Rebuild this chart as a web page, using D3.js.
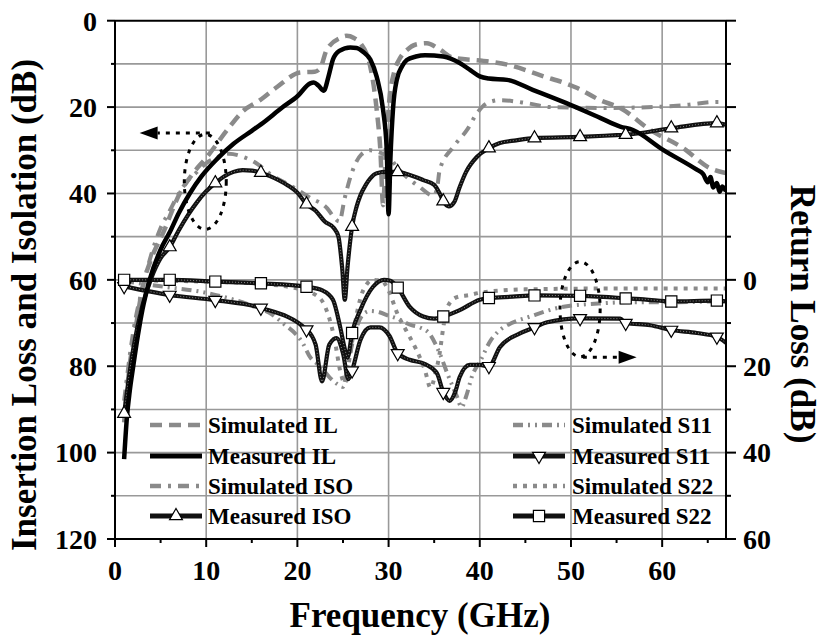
<!DOCTYPE html>
<html>
<head>
<meta charset="utf-8">
<script src="https://cdn.jsdelivr.net/npm/d3@7/dist/d3.min.js"></script>
<style>
  html, body { margin: 0; padding: 0; background: #fff; }
  svg { display: block; }
  text { font-family: "Liberation Serif", "Times New Roman", serif; font-weight: bold; fill: #000; }
</style>
</head>
<body>
<svg id="chart" width="822" height="644"></svg>
<script>
// ---- data: [frequency GHz, dB] ----
// left axis: insertion loss / isolation (dB)
const simIL = [[1.0,93],[1.3,86],[1.6,80],[2.2,72],[3.1,61],[4,55],[5.3,49],[7.1,40],[8.5,35.5],[10.1,31.5],[12.3,25.3],[14,21],[15.9,18.4],[17.8,15.3],[20.3,12],[21.9,11.8],[22.5,11],[23.2,6.8],[24.7,4],[25.4,3.5],[26.2,4],[26.9,5.2],[28,10.7],[28.7,20.7],[29.1,30],[29.4,42.7],[29.7,30],[30.1,18],[30.6,12],[31.3,8.5],[32,6.8],[33,5.5],[34.2,5.2],[35.5,6.5],[37.1,8.6],[40.4,9.3],[43.3,10.3],[46.6,12.6],[50.7,15.6],[53.2,18.4],[55.4,20.2],[58.7,25.3],[62.3,29.5],[65.2,34.1],[67,35.3]];
const measIL = [[1.0,101.5],[1.3,92],[1.6,86],[2.0,80],[2.5,73],[3.0,67],[3.8,60],[5,53],[6,49],[7,44.5],[8.2,40],[9.5,36],[11.2,32],[13,28.5],[15,25.5],[16,24],[18.4,20],[20,17.5],[21.4,14.5],[21.8,14.3],[22.3,15],[22.9,16.2],[23.4,13],[23.9,9],[24.6,7],[25.8,6.2],[26.5,6.3],[27.2,7.2],[28,9],[28.7,13],[29.4,20.7],[29.8,30],[30.0,44.8],[30.2,32],[30.5,20],[30.9,13.7],[31.5,10.5],[32,9.1],[33,8.3],[34,8],[36,8.3],[37.8,9.8],[39,11.5],[40,12.9],[41,13.4],[43,13.7],[45.8,16],[49.5,19.1],[53.2,22.5],[55.4,24.5],[56.8,25.3],[60.1,29.9],[63.8,34.5],[64.5,35.5],[65,37.4],[65.3,36.2],[65.6,38.6],[66,37.6],[66.3,39.6],[66.6,38.4],[67,39.5]];
const simISO = [[1,88],[2,72],[3,62],[4,54],[5,48],[6,44],[7,40],[8,37],[9,35],[10,33],[11,31.8],[12.5,30.8],[14,31.5],[15.5,33],[17,35.5],[19.5,38.5],[21.4,41],[23.3,43.5],[24,45.5],[24.6,46.5],[25.2,41],[26,35],[27,31],[28,30],[29,30.5],[30,31.5],[31.2,34.6],[33.4,38.5],[34.9,40.5],[35.3,39],[35.6,34.6],[37.1,29.2],[38.6,25.3],[39.7,21.4],[40.8,19.1],[42.2,18.4],[45.2,19.1],[47.7,20],[53.2,20.2],[59,20],[62.7,19.5],[66,18.8],[67,18.8]];
const measISO = [[1,91],[2,76],[3,66],[4,59.5],[5,55],[6,52.4],[7,48.5],[8,45],[9,42],[10,39.5],[11,37.6],[12,36],[13,35],[14,34.6],[15,34.7],[16,35.2],[17,36],[18,37],[19,38.2],[20,39.8],[21,42.5],[22,44],[23,46.5],[24,48],[24.5,50],[24.9,57],[25.2,64.6],[25.5,57],[26,47.7],[26.5,43],[26.9,40.5],[27.5,38],[28,36.5],[28.7,35.3],[29.8,35],[31,35],[32,35.5],[33.8,36.9],[35,38],[35.6,40],[36,41.8],[36.6,43],[37.2,42],[37.8,38.5],[38.5,35],[39.7,31.5],[41,29.5],[42.2,28.3],[44,27.7],[46,27.2],[51,26.9],[55,26.5],[56,26.4],[61,24.9],[66,23.7],[67,24.1]];
// right axis: return loss (dB)
const simS11 = [[1,0.3],[5,1.5],[10,3],[15,6],[17.2,8],[18.4,10],[20.6,14.7],[21.4,17.9],[22.5,20],[23.5,22.5],[24.5,24.3],[25,24.8],[25.5,20],[26,15],[26.5,11],[27.2,8],[28,7.2],[29,7.5],[30,8.3],[31,9],[32.5,10.5],[33.4,11],[34.5,12.5],[35.6,17],[36.5,22],[37.5,27],[38,29.5],[38.5,27],[39.2,22],[40,19],[41.2,14],[42,12],[43.5,10],[45.5,8.5],[49,6.3],[53,5.5],[56,5.2],[61,5.2],[66,5],[67,5]];
const measS11 = [[1,1.5],[6,3.5],[11,4.7],[16,6.5],[21,11.5],[22,15],[22.7,23.5],[23.5,15],[24.3,13.5],[25,17],[25.6,23],[26,21],[26.9,14],[28,11],[29,11],[30.1,13],[31,17],[32.3,18.5],[34,19.5],[35.3,21.6],[36,26],[36.7,28],[37.3,26],[37.8,22.5],[38.9,19.7],[40,19.7],[41,20],[42.2,15.6],[44.4,12.4],[46,11],[47.4,9.8],[51,8.9],[55.4,9],[56,10],[58.7,10.5],[61,11.6],[63.8,12.3],[66,13.2],[67,14.6]];
const simS22 = [[1,0],[5,0.2],[10,0.4],[15,0.8],[20,2],[22,3.5],[23,6],[24,13],[24.8,22],[25.2,24],[25.8,17],[26.5,8],[27.2,2.5],[28.3,0],[29.3,0.3],[30,2.5],[31,8],[32,12],[33,16],[34,21],[34.6,25],[35.1,22],[35.6,17],[36,11],[36.4,6.5],[37.5,4],[38.9,3.5],[40,3],[45,2.2],[55,2],[67,2]];
const measS22 = [[1,0],[6,0],[11,0.4],[16,0.8],[21,1.6],[22.8,2.5],[23.9,4.6],[24.7,11],[25.2,16],[25.5,18],[26,12.3],[26.9,7],[28.3,1.6],[29.5,0],[30.2,0.2],[31,1.8],[32.3,6.2],[33.8,8.5],[35,9],[36,8.5],[37.8,7],[40,4.6],[41,4.2],[43.6,3.9],[46,3.6],[51,3.7],[55.4,4.2],[56,4.3],[58,4.5],[61,5],[66,4.8],[67,5]];

// markers every 5 GHz starting at 1 GHz
const markerFreqs = [1,6,11,16,21,26,31,36,41,46,51,56,61,66];

const xTicksMajor = [0,10,20,30,40,50,60];
const leftTickLabels = [0,20,40,60,80,100,120];
const rightTickLabels = [0,20,40,60];

const xLabel = "Frequency (GHz)";
const yLeftLabel = "Insertion Loss and Isolation (dB)";
const yRightLabel = "Return Loss (dB)";

// annotation ellipses (GHz, dB) with arrows pointing toward their axis
const leftNote = {cx: 9.9, cy: 37.3, rx: 2.3, ry: 11, arrowFrom: [10.4, 26], arrowTo: [2.7, 26]};
const rightNote = {cx: 51.0, cy: 6.8, rx: 2.2, ry: 11, arrowFrom: [51.3, 17.9], arrowTo: [57.2, 17.9]};

// ---- layout ----
const plot = {left: 115, right: 726, top: 20.7, bottom: 539};
const svg = d3.select("#chart");

const x = d3.scaleLinear().domain([0, 67]).range([plot.left, plot.right]);
const yL = d3.scaleLinear().domain([0, 120]).range([plot.top, plot.bottom]);
const yR = d3.scaleLinear().domain([-60, 60]).range([plot.top, plot.bottom]);

const GRID = "#999";
const GRAY = "#8a8a8a";

// grid
const grid = svg.append("g");
grid.selectAll("line.v").data(d3.range(10, 61, 10)).join("line")
  .attr("x1", d => x(d)).attr("x2", d => x(d))
  .attr("y1", plot.top).attr("y2", plot.bottom)
  .attr("stroke", GRID).attr("stroke-width", 1.6);
grid.selectAll("line.h").data(d3.range(10, 111, 10)).join("line")
  .attr("y1", d => yL(d)).attr("y2", d => yL(d))
  .attr("x1", plot.left).attr("x2", plot.right)
  .attr("stroke", GRID).attr("stroke-width", 1.6);

// clip curves to plot area
svg.append("clipPath").attr("id", "clip").append("rect")
  .attr("x", plot.left).attr("y", plot.top)
  .attr("width", plot.right - plot.left).attr("height", plot.bottom - plot.top);

const curves = svg.append("g").attr("clip-path", "url(#clip)");

function lineGen(yScale) {
  return d3.line().x(d => x(d[0])).y(d => yScale(d[1])).curve(d3.curveMonotoneX);
}

const series = [
  {name: "Simulated IL",  data: simIL,   y: yL, color: GRAY, width: 4.5, dash: "12,7"},
  {name: "Simulated ISO", data: simISO,  y: yL, color: GRAY, width: 4,   dash: "11,7,3,7"},
  {name: "Simulated S11", data: simS11,  y: yR, color: GRAY, width: 4,   dash: "10,5,2,5,2,5"},
  {name: "Simulated S22", data: simS22,  y: yR, color: GRAY, width: 4,   dash: "4,6"},
  {name: "Measured ISO",  data: measISO, y: yL, color: "#111", width: 4.2, dash: null, marker: "tri-up", grain: true},
  {name: "Measured S11",  data: measS11, y: yR, color: "#111", width: 4.2, dash: null, marker: "tri-down", grain: true},
  {name: "Measured S22",  data: measS22, y: yR, color: "#111", width: 4.2, dash: null, marker: "square", grain: true},
  {name: "Measured IL",   data: measIL,  y: yL, color: "#000", width: 4.5, dash: null}
];

series.forEach(s => {
  const gen = lineGen(s.y);
  curves.append("path")
    .datum(s.data)
    .attr("d", gen)
    .attr("fill", "none")
    .attr("stroke", s.color)
    .attr("stroke-width", s.width)
    .attr("stroke-dasharray", s.dash)
    .attr("stroke-linejoin", "round");
  if (s.grain) {
    // fine speckle along measured traces
    curves.append("path")
      .datum(s.data)
      .attr("d", gen)
      .attr("fill", "none")
      .attr("stroke", "#888")
      .attr("stroke-width", 1)
      .attr("stroke-dasharray", "1,2");
  }
});

const symTri = d3.symbol().type(d3.symbolTriangle).size(72);
function markerPath(type) {
  if (type === "square") return d3.symbol().type(d3.symbolSquare).size(125)();
  return symTri();
}
function markerTransform(type, px, py) {
  return type === "tri-down" ? `translate(${px},${py}) rotate(180)` : `translate(${px},${py})`;
}

const markerLayer = svg.append("g");
series.filter(s => s.marker).forEach(s => {
  const pts = s.data.filter(d => markerFreqs.includes(d[0]));
  markerLayer.selectAll(null).data(pts).join("path")
    .attr("d", markerPath(s.marker))
    .attr("transform", d => markerTransform(s.marker, x(d[0]), s.y(d[1])))
    .attr("fill", "#fff").attr("stroke", "#000").attr("stroke-width", 1.2);
});

// ---- axes ----
const axisG = svg.append("g");
const AX = 2;

// frame lines
axisG.append("line").attr("x1", plot.left).attr("x2", plot.left).attr("y1", plot.top).attr("y2", plot.bottom).attr("stroke", "#000").attr("stroke-width", AX);
axisG.append("line").attr("x1", plot.right).attr("x2", plot.right).attr("y1", plot.top).attr("y2", plot.bottom).attr("stroke", "#000").attr("stroke-width", AX);
axisG.append("line").attr("x1", plot.left).attr("x2", plot.right).attr("y1", plot.top).attr("y2", plot.top).attr("stroke", "#000").attr("stroke-width", AX);
axisG.append("line").attr("x1", plot.left).attr("x2", plot.right).attr("y1", plot.bottom).attr("y2", plot.bottom).attr("stroke", "#000").attr("stroke-width", AX);

// bottom ticks
axisG.selectAll(null).data(d3.range(0, 66, 5)).join("line")
  .attr("x1", d => x(d)).attr("x2", d => x(d))
  .attr("y1", plot.bottom).attr("y2", d => plot.bottom + (d % 10 === 0 ? 8 : 4))
  .attr("stroke", "#000").attr("stroke-width", AX);
axisG.selectAll(null).data(xTicksMajor).join("text")
  .attr("x", d => x(d)).attr("y", plot.bottom + 41)
  .attr("text-anchor", "middle").attr("font-size", 28)
  .text(d => d);

// left ticks
axisG.selectAll(null).data(d3.range(0, 121, 10)).join("line")
  .attr("y1", d => yL(d)).attr("y2", d => yL(d))
  .attr("x1", plot.left).attr("x2", d => plot.left - (d % 20 === 0 ? 8 : 4))
  .attr("stroke", "#000").attr("stroke-width", AX);
axisG.selectAll(null).data(leftTickLabels).join("text")
  .attr("x", plot.left - 18).attr("y", d => yL(d))
  .attr("dy", "0.35em")
  .attr("text-anchor", "end").attr("font-size", 28)
  .text(d => d);

// right ticks
axisG.selectAll(null).data(d3.range(-60, 61, 10)).join("line")
  .attr("y1", d => yR(d)).attr("y2", d => yR(d))
  .attr("x1", plot.right).attr("x2", d => plot.right + (d % 20 === 0 ? 10 : 5))
  .attr("stroke", "#000").attr("stroke-width", AX);
axisG.selectAll(null).data(rightTickLabels).join("text")
  .attr("x", plot.right + 17).attr("y", d => yR(d))
  .attr("dy", "0.35em")
  .attr("text-anchor", "start").attr("font-size", 28)
  .text(d => d);

// axis titles
svg.append("text")
  .attr("x", 420).attr("y", 627)
  .attr("text-anchor", "middle").attr("font-size", 35)
  .text(xLabel);
svg.append("text")
  .attr("transform", "translate(36,305) rotate(-90)")
  .attr("text-anchor", "middle").attr("font-size", 35)
  .text(yLeftLabel);
svg.append("text")
  .attr("transform", "translate(791,314) rotate(90)")
  .attr("text-anchor", "middle").attr("font-size", 35)
  .text(yRightLabel);

// ---- annotations ----
const note = svg.append("g").attr("fill", "none").attr("stroke", "#000")
  .attr("stroke-width", 3).attr("stroke-dasharray", "4,6");
[leftNote, rightNote].forEach((n, i) => {
  const yS = i === 0 ? yL : yR;
  note.append("ellipse")
    .attr("cx", x(n.cx)).attr("cy", yS(n.cy))
    .attr("rx", Math.abs(x(n.cx + n.rx) - x(n.cx)))
    .attr("ry", Math.abs(yS(n.cy + n.ry) - yS(n.cy)));
  const x0 = x(n.arrowFrom[0]), y0 = yS(n.arrowFrom[1]);
  const x1 = x(n.arrowTo[0]), y1 = yS(n.arrowTo[1]);
  const dir = Math.sign(x1 - x0);
  const headLen = 18;
  note.append("line").attr("x1", x0).attr("y1", y0).attr("x2", x1 - dir * headLen).attr("y2", y1);
  svg.append("path")
    .attr("d", `M${x1},${y1} L${x1 - dir * headLen},${y1 - 6.5} L${x1 - dir * headLen},${y1 + 6.5} Z`)
    .attr("fill", "#000");
});

// ---- legend ----
const legendRows = [
  {col: 0, row: 0, s: "Simulated IL"},
  {col: 0, row: 1, s: "Measured IL"},
  {col: 0, row: 2, s: "Simulated ISO"},
  {col: 0, row: 3, s: "Measured ISO"},
  {col: 1, row: 0, s: "Simulated S11"},
  {col: 1, row: 1, s: "Measured S11"},
  {col: 1, row: 2, s: "Simulated S22"},
  {col: 1, row: 3, s: "Measured S22"}
];
const legCols = [{x0: 150, x1: 202, tx: 208}, {x0: 513, x1: 565, tx: 572}];
const legRowY = [425, 456, 486, 516];
const legend = svg.append("g");
legendRows.forEach(r => {
  const s = series.find(q => q.name === r.s);
  const c = legCols[r.col], yy = legRowY[r.row];
  legend.append("line")
    .attr("x1", c.x0).attr("x2", c.x1).attr("y1", yy).attr("y2", yy)
    .attr("stroke", s.color).attr("stroke-width", s.marker || !s.dash ? 5 : 4.5)
    .attr("stroke-dasharray", s.dash);
  if (s.marker) {
    legend.append("path")
      .attr("d", markerPath(s.marker))
      .attr("transform", markerTransform(s.marker, (c.x0 + c.x1) / 2, yy))
      .attr("fill", "#fff").attr("stroke", "#000").attr("stroke-width", 1.2);
  }
  legend.append("text")
    .attr("x", c.tx).attr("y", yy).attr("dy", "0.33em")
    .attr("font-size", 23)
    .text(r.s);
});
</script>
</body>
</html>
